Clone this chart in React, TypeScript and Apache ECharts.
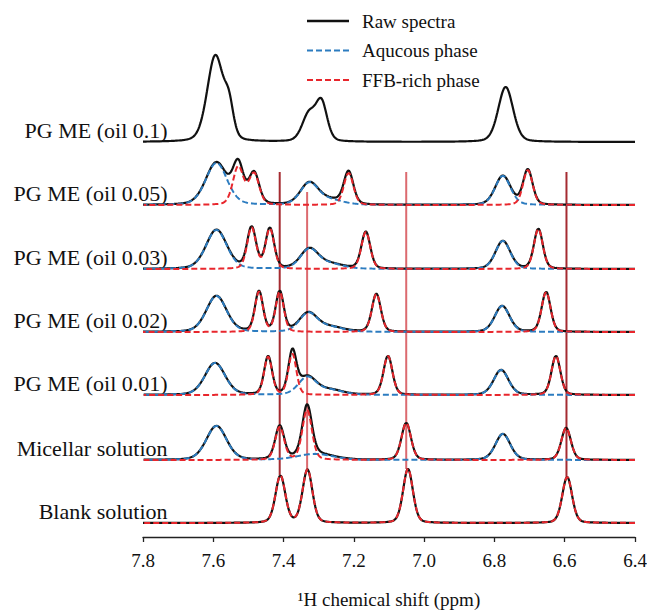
import React, { useEffect, useRef } from 'react';
import * as echarts from 'echarts';

// ---- axis ----
const SHIFT_MIN = 6.4;
const SHIFT_MAX = 7.8;
const SHIFT_STEP = 0.002;
const SHIFT_INTERVAL = 0.2;

// ---- legend ----
const legendNames = ['Raw spectra', 'Aqucous phase', 'FFB-rich phase'];

// ---- rows (top to bottom) ----
const rowNames = [
  'PG ME (oil 0.1)',
  'PG ME (oil 0.05)',
  'PG ME (oil 0.03)',
  'PG ME (oil 0.02)',
  'PG ME (oil 0.01)',
  'Micellar solution',
  'Blank solution',
];
// vertical stacking offset of each trace (intensity units)
const rowOffsets = [395, 332, 268, 205, 142, 77, 14];

// peaks: [centre ppm, height, FWHM ppm]
const rawOil01 = [
  [7.594, 86, 0.055],
  [7.555, 28, 0.03],
  [7.328, 27, 0.045],
  [7.292, 38, 0.038],
  [6.768, 55, 0.05],
];

const aqOil005 = [[7.591, 42, 0.072], [7.327, 21, 0.06], [7.27, 5, 0.09], [6.776, 29, 0.052]];
const ffbOil005 = [[7.529, 38, 0.036], [7.484, 31, 0.034], [7.215, 32, 0.032], [6.705, 35, 0.032]];

const aqOil003 = [[7.591, 39, 0.07], [7.327, 19, 0.06], [7.27, 5, 0.09], [6.776, 28, 0.05]];
const ffbOil003 = [[7.491, 41, 0.03], [7.439, 40, 0.029], [7.166, 37, 0.03], [6.675, 40, 0.03]];

const aqOil002 = [[7.591, 36, 0.068], [7.33, 18, 0.06], [7.27, 5, 0.09], [6.778, 26, 0.05]];
const ffbOil002 = [[7.47, 40, 0.027], [7.411, 40, 0.027], [7.136, 38, 0.03], [6.653, 40, 0.03]];

const aqOil001 = [[7.595, 32, 0.068], [7.333, 17, 0.06], [7.27, 5, 0.09], [6.781, 25, 0.05]];
const ffbOil001 = [[7.444, 38, 0.027], [7.375, 41, 0.027], [7.103, 39, 0.03], [6.625, 39, 0.03]];

const aqMicellar = [[7.591, 34, 0.068], [7.31, 6, 0.12], [6.776, 26, 0.05]];
const ffbMicellar = [[7.411, 33, 0.03], [7.333, 50, 0.032], [7.051, 37, 0.032], [6.596, 32, 0.032]];

const ffbBlank = [[7.409, 47, 0.033], [7.332, 53, 0.033], [7.046, 54, 0.033], [6.593, 46, 0.033]];

const rowAq = [null, aqOil005, aqOil003, aqOil002, aqOil001, aqMicellar, null];
const rowFfb = [null, ffbOil005, ffbOil003, ffbOil002, ffbOil001, ffbMicellar, ffbBlank];
const rowRawOnly = [rawOil01, null, null, null, null, null, null];

// reference lines (ppm), their upper ends and colours
const refShifts = [7.411, 7.333, 7.051, 6.595];
const refTops = [365, 345, 365, 365];
const refColors = ['#a52b31', '#dc6a6f', '#dc6a6f', '#a52b31'];

const COLOR_RAW = '#111111';
const COLOR_AQ = '#2c7cc0';
const COLOR_FFB = '#e8262c';
const FONT = 'Liberation Serif, Times New Roman, serif';

// Lorentzian fraction of the pseudo-Voigt line shape
const ETA = 0.25;

type Peak = number[];

const shifts: number[] = [];
{
  const n = Math.round((SHIFT_MAX - SHIFT_MIN) / SHIFT_STEP);
  for (let i = 0; i <= n; i++) shifts.push(+(SHIFT_MIN + i * SHIFT_STEP).toFixed(4));
}

function spectrum(peaks: Peak[], x: number): number {
  let s = 0;
  for (const [c, h, w] of peaks) {
    const d = (x - c) / (w / 2);
    const lor = 1 / (1 + d * d);
    const gau = Math.exp(-Math.LN2 * d * d);
    s += h * (ETA * lor + (1 - ETA) * gau);
  }
  return s;
}

function trace(peaks: Peak[], offset: number) {
  return shifts.map((x) => [x, offset + spectrum(peaks, x)]);
}

export default function App() {
  const ref = useRef<HTMLDivElement>(null);

  useEffect(() => {
    if (!ref.current) return;
    const chart = echarts.init(ref.current, null, { renderer: 'svg' });

    const series: any[] = [];

    refShifts.forEach((s, i) => {
      const bottomPeak = ffbBlank.reduce((best, p) =>
        Math.abs(p[0] - s) < Math.abs(best[0] - s) ? p : best
      );
      const bottom = rowOffsets[6] + spectrum(ffbBlank, bottomPeak[0]);
      series.push({
        type: 'line',
        name: 'ref-' + s,
        data: [
          [s, refTops[i]],
          [s, bottom],
        ],
        showSymbol: false,
        symbol: 'none',
        silent: true,
        z: 1,
        lineStyle: { color: refColors[i], width: 2 },
      });
    });

    rowNames.forEach((_, r) => {
      const off = rowOffsets[r];
      const aq = rowAq[r];
      const ffb = rowFfb[r];
      const rawPeaks = rowRawOnly[r] || [...(aq || []), ...(ffb || [])];
      series.push({
        type: 'line',
        name: legendNames[0],
        data: trace(rawPeaks, off),
        showSymbol: false,
        symbol: 'none',
        z: 2,
        lineStyle: { color: COLOR_RAW, width: 2.2 },
        itemStyle: { color: COLOR_RAW },
      });
      if (aq) {
        series.push({
          type: 'line',
          name: legendNames[1],
          data: trace(aq, off),
          showSymbol: false,
          symbol: 'none',
          z: 3,
          lineStyle: { color: COLOR_AQ, width: 2, type: [6, 3] },
          itemStyle: { color: COLOR_AQ },
        });
      }
      if (ffb) {
        series.push({
          type: 'line',
          name: legendNames[2],
          data: trace(ffb, off),
          showSymbol: false,
          symbol: 'none',
          z: 4,
          lineStyle: { color: COLOR_FFB, width: 2, type: [6, 3] },
          itemStyle: { color: COLOR_FFB },
        });
      }
    });

    chart.setOption({
      animation: false,
      backgroundColor: '#ffffff',
      textStyle: { fontFamily: FONT, color: '#111' },
      grid: { left: 143, right: 12, top: 10, bottom: 76, outerBoundsMode: 'none', containLabel: false },
      xAxis: {
        type: 'value',
        min: SHIFT_MIN,
        max: SHIFT_MAX,
        interval: SHIFT_INTERVAL,
        inverse: true,
        name: '¹H chemical shift (ppm)',
        nameLocation: 'middle',
        nameGap: 53,
        nameTextStyle: { fontSize: 19, color: '#111', fontFamily: FONT },
        axisLine: { lineStyle: { color: '#222', width: 1.3 } },
        axisTick: { inside: false, length: 5, lineStyle: { color: '#222', width: 1.3 } },
        axisLabel: {
          fontSize: 19,
          color: '#111',
          margin: 14,
          fontFamily: FONT,
          formatter: (v: number) => v.toFixed(1),
        },
        splitLine: { show: false },
      },
      yAxis: { type: 'value', min: 0, max: 527, show: false },
      series,
    });

    // row labels, anchored in data coordinates
    const LABEL_PPM = 7.73;
    const LABEL_LIFT = 12;
    const graphics: any[] = rowNames.map((name, r) => {
      const [px, py] = chart.convertToPixel({ gridIndex: 0 }, [LABEL_PPM, rowOffsets[r] + LABEL_LIFT]) as number[];
      return {
        type: 'text',
        x: px,
        y: py,
        style: {
          text: name,
          fontSize: 22,
          fontFamily: FONT,
          fill: '#111',
          align: 'right',
          verticalAlign: 'middle',
        },
      };
    });

    // legend (line samples + texts)
    const legendColors = [COLOR_RAW, COLOR_AQ, COLOR_FFB];
    const legendDash = [null, [6, 3], [6, 3]];
    const LEG_X = 307;
    const LEG_Y = 21;
    const LEG_STEP = 29.5;
    legendNames.forEach((name, i) => {
      const y = LEG_Y + i * LEG_STEP;
      graphics.push({
        type: 'line',
        shape: { x1: LEG_X, y1: y, x2: LEG_X + 42, y2: y },
        style: {
          stroke: legendColors[i],
          lineWidth: i === 0 ? 2.4 : 2,
          lineDash: legendDash[i] || undefined,
        },
      });
      graphics.push({
        type: 'text',
        x: LEG_X + 55,
        y,
        style: {
          text: name,
          fontSize: 19,
          fontFamily: FONT,
          fill: '#111',
          align: 'left',
          verticalAlign: 'middle',
        },
      });
    });

    chart.setOption({ graphic: graphics });

    return () => chart.dispose();
  }, []);

  return (
    <div
      ref={ref}
      style={{ position: 'fixed', left: 0, top: 0, width: 647, height: 613, background: '#fff' }}
    />
  );
}
